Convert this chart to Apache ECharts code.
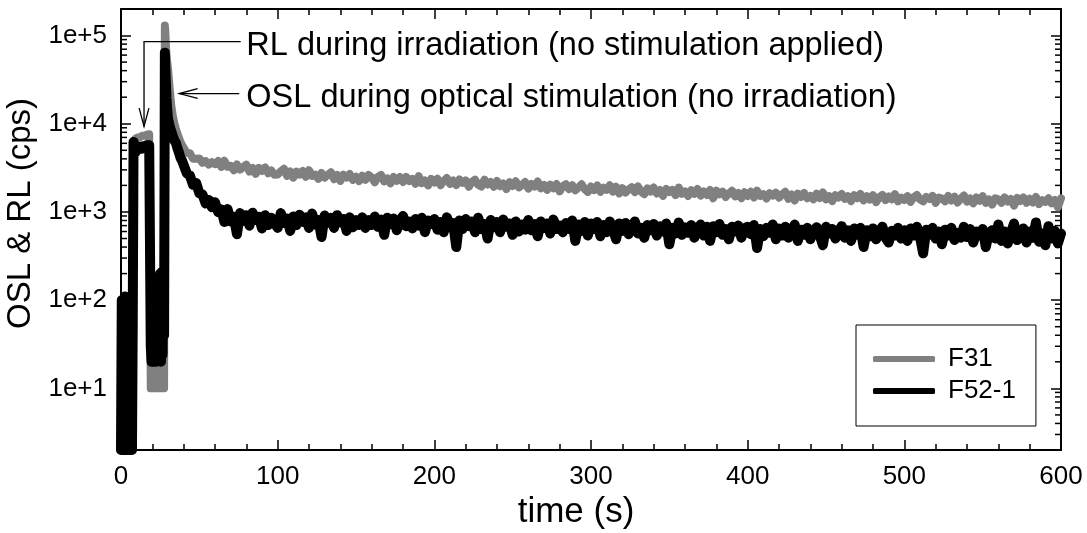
<!DOCTYPE html>
<html><head><meta charset="utf-8">
<script src="https://cdn.jsdelivr.net/npm/echarts@6/dist/echarts.min.js"></script>
<style>html,body{margin:0;padding:0;background:#fff}#c{width:1087px;height:533px}</style>
</head><body><div id="c"></div>
<script>
const seriesNames = ['F31', 'F52-1'];
const seriesColors = ['#808080', '#000000'];

// time (s) of the first 40 s (irradiation + start of stimulation)
const earlyTime = [0,0.5,1,1.5,2,2.5,3,3.5,4,4.5,5,5.5,6,6.5,7,7.5,
  8,8.5,9,9.5,10,10.5,11,11.5,12,12.5,13,13.5,14,14.5,15,15.5,16,16.5,17,17.5,18,18.5,
  19,19.5,20,20.5,21,21.5,22,22.5,23,23.5,24,24.5,25,25.5,26,26.5,27,27.5,
  28,28.3,28.6,29,29.5,30,
  31,32,33,34,35,36,37,38,39];
const earlyF31 = [50,2,60,3,90,2,40,2,70,2,30,2,50,2,60,2,
  6300,6500,6700,6800,6900,7000,6900,7100,7000,7200,7100,7300,7200,7400,7300,7500,7600,7500,7800,7700,7600,7400,
  10,10,10,12,10,10,30,10,28,10,30,10,32,10,30,10,28,10,
  130000,110000,80000,62000,50000,42000,
  26000,16500,12500,10200,8800,7700,6900,6200,5700];
const earlyF52 = [2,100,2,40,2,110,3,60,2,30,2,80,2,100,2,60,
  6200,5900,5300,4800,5000,5400,5100,5500,5300,5600,5200,5500,5700,5400,5600,5800,5500,5700,5600,5900,5700,5500,
  30,20,22,20,21,20,80,20,160,22,180,21,200,20,210,24,220,40,
  64000,42000,30000,20000,14500,11500,
  9500,8300,7300,6500,6100,5300,4700,4100,3800];

// time (s) of the long stimulation tail
const tailTime = [
  40,42,44,46,48,50,52,54,56,58, 60,62,64,66,68,70,72,74,76,78,
  80,82,84,86,88,90,92,94,96,98, 100,102,104,106,108,110,112,114,116,118,
  120,122,124,126,128,130,132,134,136,138, 140,142,144,146,148,150,152,154,156,158,
  160,162,164,166,168,170,172,174,176,178, 180,182,184,186,188,190,192,194,196,198,
  200,202,204,206,208,210,212,214,216,218, 220,222,224,226,228,230,232,234,236,238,
  240,242,244,246,248,250,252,254,256,258, 260,262,264,266,268,270,272,274,276,278,
  280,282,284,286,288,290,292,294,296,298, 300,302,304,306,308,310,312,314,316,318,
  320,322,324,326,328,330,332,334,336,338, 340,342,344,346,348,350,352,354,356,358,
  360,362,364,366,368,370,372,374,376,378, 380,382,384,386,388,390,392,394,396,398,
  400,402,404,406,408,410,412,414,416,418, 420,422,424,426,428,430,432,434,436,438,
  440,442,444,446,448,450,452,454,456,458, 460,462,464,466,468,470,472,474,476,478,
  480,482,484,486,488,490,492,494,496,498, 500,502,504,506,508,510,512,514,516,518,
  520,522,524,526,528,530,532,534,536,538, 540,542,544,546,548,550,552,554,556,558,
  560,562,564,566,568,570,572,574,576,578, 580,582,584,586,588,590,592,594,596,598,600];
const tailF31 = [
  5360,4650,4630,4000,4020,4040,3610,3770,3440,3680, 3480,3780,3240,3810,3250,3330,2970,3450,3020,3230,
  3440,2860,3160,2710,3160,2920,3190,2740,2950,2640, 2650,2890,3090,2570,2880,2450,2870,2660,2910,2510,
  2970,2560,2650,2370,2770,2450,2640,2820,2350,2620, 2250,2640,2460,2690,2310,2500,2240,2580,2320,2630,
  2470,2170,2500,2630,2220,2400,2110,2490,2250,2490, 2190,2500,2240,2370,2090,2540,2120,2270,2000,2370,
  2160,2380,2010,2250,2420,2080,2270,2020,2340,2140, 2280,1930,2200,2320,2030,1940,2330,2050,2190,1930,
  2240,1960,2100,1820,2180,1970,2230,1900,2030,2180, 1840,2070,1940,2210,1850,2020,1780,2040,1860,2070,
  1710,1960,2060,1810,2010,1760,1900,2060,1810,1690, 1940,1770,2000,1690,1880,1780,2010,1700,1930,1620,
  1860,1660,1800,1910,1680,1940,1700,1590,1850,1700, 1890,1620,1770,1520,1830,1680,1780,1550,1890,1610,
  1710,1520,1760,1610,1820,1530,1710,1560,1770,1430, 1740,1590,1700,1480,1620,1740,1500,1640,1430,1670,
  1520,1700,1460,1740,1520,1590,1420,1630,1530,1650, 1450,1580,1690,1410,1580,1350,1610,1480,1640,1430,
  1520,1390,1610,1440,1660,1390,1510,1330,1550,1460, 1600,1410,1510,1330,1550,1430,1600,1350,1510,1380,
  1550,1290,1470,1560,1360,1500,1390,1590,1320,1450, 1370,1510,1300,1470,1560,1390,1320,1480,1400,1520,
  1270,1460,1420,1320,1520,1350,1490,1280,1410,1540, 1310,1420,1250,1460,1340,1510,1270,1380,1210,1430,
  1390,1270,1460,1310,1400,1180,1440,1330,1460,1270, 1410,1280,1480,1230,1360,1300,1430,1250,1370,1130,1430];
const tailF52 = [
  3660,2740,2580,2030,2130,1630,1580,1250,1370,1130, 1290,1000,1070,770,1080,780,880,560,970,790,
  920,700,980,810,880,650,920,710,860,750, 660,970,750,840,610,890,710,930,770,870,
  660,960,720,810,520,910,750,860,660,920, 760,830,610,870,670,810,710,870,660,810,
  710,890,680,820,550,860,730,840,620,800, 900,690,780,650,830,700,860,590,800,730,
  830,630,770,590,870,670,750,400,800,640, 830,690,780,590,860,640,730,500,810,670,
  770,590,820,680,740,550,780,600,720,630, 810,620,730,530,780,660,740,570,820,640,
  700,590,750,640,800,470,720,610,770,540, 740,640,770,530,710,590,780,640,490,740,
  610,750,560,690,780,570,660,510,710,620, 730,540,690,600,740,430,660,570,760,550,
  670,580,710,510,650,720,540,680,470,690, 590,730,550,640,490,680,600,700,510,650,
  680,560,710,390,640,530,660,580,720,490, 650,540,680,510,620,720,470,630,550,660,
  490,620,670,540,420,680,570,640,500,600, 690,510,620,470,650,550,660,400,620,530,
  650,490,600,680,510,450,610,540,660,500, 620,470,650,540,680,520,340,630,550,660,
  500,600,430,630,540,660,480,580,510,680, 520,640,450,600,540,640,400,580,620,500,
  720,470,600,440,580,740,480,530,650,450, 600,510,760,460,570,420,690,500,610,440,570];

// axes
const xMin = 0, xMax = 600, xStep = 100;
const yMin = 2, yMax = 200000;
const yTickLabels = ['1e+1', '1e+2', '1e+3', '1e+4', '1e+5'];
const yMinorTicks = [3,4,5,6,7,8,9, 20,30,40,50,60,70,80,90, 200,300,400,500,600,700,800,900,
  2000,3000,4000,5000,6000,7000,8000,9000, 20000,30000,40000,50000,60000,70000,80000,90000];

// annotations: leader path in data units (last point = arrow tip), text anchor
const annoTexts = ['RL during irradiation (no stimulation applied)', 'OSL during optical stimulation (no irradiation)'];
const annoPaths = [
  [[76.4, 85500], [14.7, 85500], [14.7, 9300]],
  [[75.5, 22000], [37.2, 22000]]
];
const annoTextAt = [[80, 85500], [80, 22000]];

const FONT = "'Liberation Sans', Arial, Helvetica, sans-serif";

function buildData(times, vals) { return times.map((t, i) => [t, vals[i]]); }
const dataF31 = buildData(earlyTime, earlyF31).concat(buildData(tailTime, tailF31));
const dataF52 = buildData(earlyTime, earlyF52).concat(buildData(tailTime, tailF52));

const chart = echarts.init(document.getElementById('c'), null, {renderer: 'canvas'});

function renderMinorTicks(params, api) {
  const v = api.value(1);
  const pl = api.coord([xMin, v]);
  const pr = api.coord([xMax, v]);
  const st = {stroke: '#000', lineWidth: 1.5};
  return {type: 'group', children: [
    {type: 'line', shape: {x1: pl[0], y1: pl[1], x2: pl[0] + 6, y2: pl[1]}, style: st},
    {type: 'line', shape: {x1: pr[0] - 6, y1: pr[1], x2: pr[0], y2: pr[1]}, style: st}
  ]};
}

function renderAnno(params, api) {
  const i = params.dataIndex;
  const pts = annoPaths[i].map(p => api.coord(p));
  const tip = pts[pts.length - 1], prev = pts[pts.length - 2];
  const ang = Math.atan2(tip[1] - prev[1], tip[0] - prev[0]);
  const L = 19, W = 0.26;
  const h1 = [tip[0] - L * Math.cos(ang - W), tip[1] - L * Math.sin(ang - W)];
  const h2 = [tip[0] - L * Math.cos(ang + W), tip[1] - L * Math.sin(ang + W)];
  const tp = api.coord(annoTextAt[i]);
  const st = {stroke: '#000', lineWidth: 1.3, fill: null};
  return {type: 'group', children: [
    {type: 'polyline', shape: {points: pts}, style: st},
    {type: 'polyline', shape: {points: [h1, tip, h2]}, style: st},
    {type: 'text', x: tp[0], y: tp[1] + 4, style: {text: annoTexts[i], fontSize: 32.5, fontFamily: FONT,
      fill: '#000', align: 'left', verticalAlign: 'middle'}}
  ]};
}

const axisCommonX = {
  type: 'value', min: xMin, max: xMax, interval: xStep,
  axisLine: {show: true, onZero: false, lineStyle: {color: '#000', width: 2}},
  axisTick: {show: true, inside: true, length: 10, lineStyle: {color: '#000', width: 1.5}},
  minorTick: {show: true, splitNumber: 5, length: 6, lineStyle: {color: '#000', width: 1.5}},
  splitLine: {show: false}, minorSplitLine: {show: false}
};
const axisCommonY = {
  type: 'log', logBase: 10, min: yMin, max: yMax,
  axisLine: {show: true, onZero: false, lineStyle: {color: '#000', width: 2}},
  axisTick: {show: true, inside: true, length: 10, lineStyle: {color: '#000', width: 1.5}},
  minorTick: {show: false},
  splitLine: {show: false}
};

function yLabel(v) {
  const e = Math.log10(v);
  const r = Math.round(e);
  if (Math.abs(e - r) > 1e-6) return '';
  return yTickLabels[r - 1] || '';
}

chart.setOption({
  animation: false,
  backgroundColor: '#fff',
  grid: {left: 121, right: 26, top: 9, bottom: 83, outerBoundsMode: 'none', containLabel: false},
  xAxis: [
    Object.assign({}, axisCommonX, {position: 'bottom',
      axisLabel: {show: true, color: '#000', fontSize: 26, fontFamily: FONT, margin: 14},
      name: 'time (s)', nameLocation: 'middle', nameGap: 40,
      nameTextStyle: {color: '#000', fontSize: 35, fontFamily: FONT, padding: [0, 30, 0, 0]}}),
    Object.assign({}, axisCommonX, {position: 'top', axisLabel: {show: false}})
  ],
  yAxis: [
    Object.assign({}, axisCommonY, {position: 'left',
      axisLabel: {show: true, color: '#000', fontSize: 26, fontFamily: FONT, margin: 14, formatter: yLabel,
        showMinLabel: false, showMaxLabel: false},
      name: 'OSL & RL (cps)', nameLocation: 'middle', nameGap: 64, nameRotate: 90,
      nameTextStyle: {color: '#000', fontSize: 33, fontFamily: FONT, padding: [0, 0, 0, 32]}}),
    Object.assign({}, axisCommonY, {position: 'right', axisLabel: {show: false}})
  ],
  legend: {
    data: seriesNames, orient: 'vertical', left: 856, top: 325,
    padding: [21, 20, 22, 17], itemGap: 6, itemWidth: 62, itemHeight: 6, icon: 'roundRect',
    borderColor: '#000', borderWidth: 1, backgroundColor: '#fff',
    textStyle: {color: '#000', fontSize: 26, fontFamily: FONT, lineHeight: 26, padding: [0, 0, 0, 8]}
  },
  series: [
    {name: seriesNames[0], type: 'line', data: dataF31, xAxisIndex: 0, yAxisIndex: 0,
      showSymbol: false, symbol: 'none', sampling: null, color: seriesColors[0],
      itemStyle: {color: seriesColors[0]},
      lineStyle: {color: seriesColors[0], width: 8, join: 'round', cap: 'round'}},
    {name: seriesNames[1], type: 'line', data: dataF52, xAxisIndex: 0, yAxisIndex: 0,
      showSymbol: false, symbol: 'none', sampling: null, color: seriesColors[1],
      itemStyle: {color: seriesColors[1]},
      lineStyle: {color: seriesColors[1], width: 10, join: 'round', cap: 'round'}},
    {name: 'minorTicks', type: 'custom', xAxisIndex: 0, yAxisIndex: 0, clip: false, silent: true,
      data: yMinorTicks.map(v => [xMin, v]), renderItem: renderMinorTicks, z: 5},
    {name: 'annotations', type: 'custom', xAxisIndex: 0, yAxisIndex: 0, clip: false, silent: true,
      data: annoTextAt, renderItem: renderAnno, z: 6}
  ]
});
</script></body></html>
